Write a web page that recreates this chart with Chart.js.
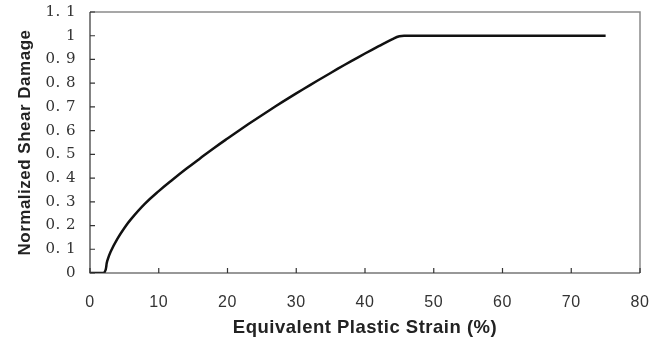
<!DOCTYPE html>
<html>
<head>
<meta charset="utf-8">
<script src="https://cdn.jsdelivr.net/npm/chart.js@4"></script>
<style>
  html, body { margin: 0; padding: 0; background: #fff; }
  #wrap { width: 662px; height: 343px; }
</style>
</head>
<body>
<div id="wrap"><canvas id="damageChart"></canvas></div>
<script>
// data
const strain = [0, 2, 2.5, 3, 4, 5, 6, 8, 10, 12, 14, 16, 18, 20, 22, 24, 26, 28, 30, 32, 34, 36, 38, 40, 42, 44, 45, 46, 47, 75];
const damage = [0, 0, 0.05, 0.09, 0.145, 0.19, 0.228, 0.292, 0.345, 0.393, 0.439, 0.483, 0.526, 0.567, 0.607, 0.646, 0.684, 0.721, 0.757, 0.792, 0.826, 0.86, 0.893, 0.925, 0.956, 0.986, 0.998, 1, 1, 1];
const xTicks = [0, 10, 20, 30, 40, 50, 60, 70, 80];
const yTicks = [0, 0.1, 0.2, 0.3, 0.4, 0.5, 0.6, 0.7, 0.8, 0.9, 1, 1.1];

//frame + inward tick marks
const frame = {
    id: "frame",
    afterDatasetsDraw(chart) {
        const {ctx, chartArea: a, scales: {x, y}} = chart;
        ctx.save();
        ctx.strokeStyle = "#8a8a8a";
        ctx.lineWidth = 1.5;
        ctx.beginPath();
        ctx.moveTo(a.left, a.top);
        ctx.lineTo(a.right, a.top);
        ctx.lineTo(a.right, a.bottom);
        ctx.stroke();
        ctx.strokeStyle = "#333";
        ctx.lineWidth = 1.2;
        ctx.beginPath();
        ctx.moveTo(a.left, a.top);
        ctx.lineTo(a.left, a.bottom);
        ctx.lineTo(a.right, a.bottom);
        ctx.stroke();
        ctx.beginPath();
        xTicks.forEach(v => {
            const px = x.getPixelForValue(v);
            ctx.moveTo(px, a.bottom);
            ctx.lineTo(px, a.bottom - 5);
        });
        yTicks.forEach(v => {
            const py = y.getPixelForValue(v);
            ctx.moveTo(a.left, py);
            ctx.lineTo(a.left + 5, py);
        });
        ctx.stroke();
        ctx.restore();
    }
};

//wider letters for the titles
const spacing = {
    id: "spacing",
    beforeDraw(chart) { chart.ctx.letterSpacing = "0.5px"; }
};

new Chart(document.getElementById("damageChart"), {
    type: "line",
    data: {
        datasets: [{
            data: strain.map((s, i) => ({x: s, y: damage[i]})),
            borderColor: "#111",
            borderWidth: 2.5,
            pointRadius: 0,
            tension: 0.4
        }]
    },
    options: {
        responsive: true,
        maintainAspectRatio: false,
        animation: false,
        layout: {padding: {top: 12, right: 22, left: 0, bottom: 0}},
        plugins: {legend: {display: false}, tooltip: {enabled: false}},
        scales: {
            x: {
                type: "linear",
                min: 0, max: 80,
                afterBuildTicks: s => { s.ticks = xTicks.map(v => ({value: v})); },
                afterFit: s => { s.height = 70; s.paddingLeft = 0; s.paddingRight = 0; },
                grid: {display: false, drawTicks: false},
                border: {display: false},
                ticks: {
                    padding: 20,
                    color: "#333",
                    font: {family: "Liberation Sans Narrow, Liberation Sans", size: 16}
                },
                title: {
                    display: true,
                    text: "Equivalent Plastic Strain (%)",
                    color: "#222",
                    font: {family: "Liberation Sans", size: 18.5, weight: "bold"},
                    padding: {top: 4, bottom: 4}
                }
            },
            y: {
                type: "linear",
                min: 0, max: 1.1,
                afterBuildTicks: s => { s.ticks = yTicks.map(v => ({value: v})); },
                afterFit: s => { s.width = 90; s.paddingTop = 0; s.paddingBottom = 0; },
                grid: {display: false, drawTicks: false},
                border: {display: false},
                ticks: {
                    padding: 14,
                    color: "#333",
                    font: {family: "DejaVu Serif", size: 15},
                    callback: v => {
                        const t = Math.round(v * 10) / 10;
                        return Number.isInteger(t) ? String(t) : t.toFixed(1).replace(".", ". ");
                    }
                },
                title: {
                    display: true,
                    text: "Normalized Shear Damage",
                    color: "#222",
                    font: {family: "Liberation Sans", size: 17, weight: "bold"},
                    padding: {top: 15, bottom: 0}
                }
            }
        }
    },
    plugins: [spacing, frame]
});
</script>
</body>
</html>
